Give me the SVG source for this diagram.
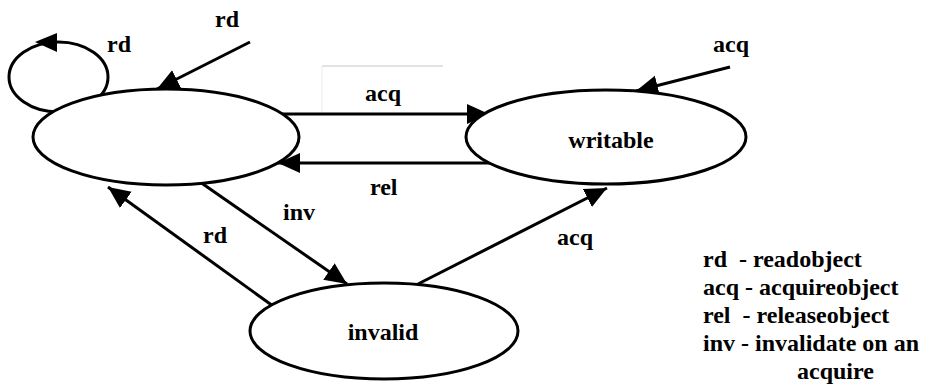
<svg xmlns="http://www.w3.org/2000/svg" width="926" height="388" viewBox="0 0 926 388">
  <style>
    .edge { fill: none; stroke: #000; stroke-width: 3; }
    .state { fill: #fff; stroke: #000; stroke-width: 3; }
    .lbl { font-family: "Liberation Serif", "Times New Roman", serif; font-weight: bold; font-size: 24px; fill: #000; }
  </style>
  <defs>
    <marker id="arrow" markerUnits="userSpaceOnUse" markerWidth="24" markerHeight="22" refX="22" refY="10" orient="auto">
      <path d="M0,0 L22,10 L0,20 z" fill="#000"/>
    </marker>
  </defs>
  <rect width="926" height="388" fill="#fff"/>

  <!-- faint frame behind the acq label -->
  <line x1="322" y1="66" x2="443" y2="66" stroke="#c8c8c8" stroke-width="1"/>
  <line x1="322" y1="66" x2="322" y2="112" stroke="#ececec" stroke-width="1"/>

  <g id="connectors">
    <!-- self loop on the left state -->
    <ellipse class="edge" cx="58.5" cy="77" rx="49.5" ry="35"/>
    <polygon points="35,42 57,33 57,52" fill="#000"/>
    <!-- incoming rd -->
    <line class="edge" x1="250" y1="42" x2="157" y2="89" marker-end="url(#arrow)"/>
    <!-- acq: left -> writable -->
    <line class="edge" x1="280" y1="114" x2="489" y2="114" marker-end="url(#arrow)"/>
    <!-- rel: writable -> left -->
    <line class="edge" x1="490" y1="163" x2="278" y2="163" marker-end="url(#arrow)"/>
    <!-- incoming acq on writable -->
    <line class="edge" x1="730" y1="67" x2="636" y2="91" marker-end="url(#arrow)"/>
    <!-- inv: left -> invalid -->
    <line class="edge" x1="200" y1="182" x2="347" y2="284" marker-end="url(#arrow)"/>
    <!-- rd: invalid -> left -->
    <line class="edge" x1="273" y1="306" x2="108" y2="187" marker-end="url(#arrow)"/>
    <!-- acq: invalid -> writable -->
    <line class="edge" x1="418" y1="284" x2="607" y2="188" marker-end="url(#arrow)"/>
  </g>

  <g id="state-left">
    <ellipse class="state" cx="166" cy="137" rx="133" ry="48"/>
  </g>
  <g id="state-writable">
    <ellipse class="state" cx="606" cy="137" rx="140" ry="47"/>
    <text class="lbl" x="611" y="148" text-anchor="middle">writable</text>
  </g>
  <g id="state-invalid">
    <ellipse class="state" cx="384" cy="331" rx="134" ry="48"/>
    <text class="lbl" x="383" y="340" text-anchor="middle">invalid</text>
  </g>

  <g id="edge-labels">
    <text class="lbl" x="107" y="52">rd</text>
    <text class="lbl" x="215" y="27">rd</text>
    <text class="lbl" x="365" y="101">acq</text>
    <text class="lbl" x="370" y="195">rel</text>
    <text class="lbl" x="713" y="52">acq</text>
    <text class="lbl" x="283" y="220">inv</text>
    <text class="lbl" x="203" y="243">rd</text>
    <text class="lbl" x="557" y="245">acq</text>
  </g>

  <g id="legend">
    <text class="lbl" x="703" y="267" xml:space="preserve">rd  - readobject</text>
    <text class="lbl" x="703" y="295">acq - acquireobject</text>
    <text class="lbl" x="703" y="323" xml:space="preserve">rel  - releaseobject</text>
    <text class="lbl" x="703" y="351">inv - invalidate on an</text>
    <text class="lbl" x="797" y="379">acquire</text>
  </g>
</svg>
